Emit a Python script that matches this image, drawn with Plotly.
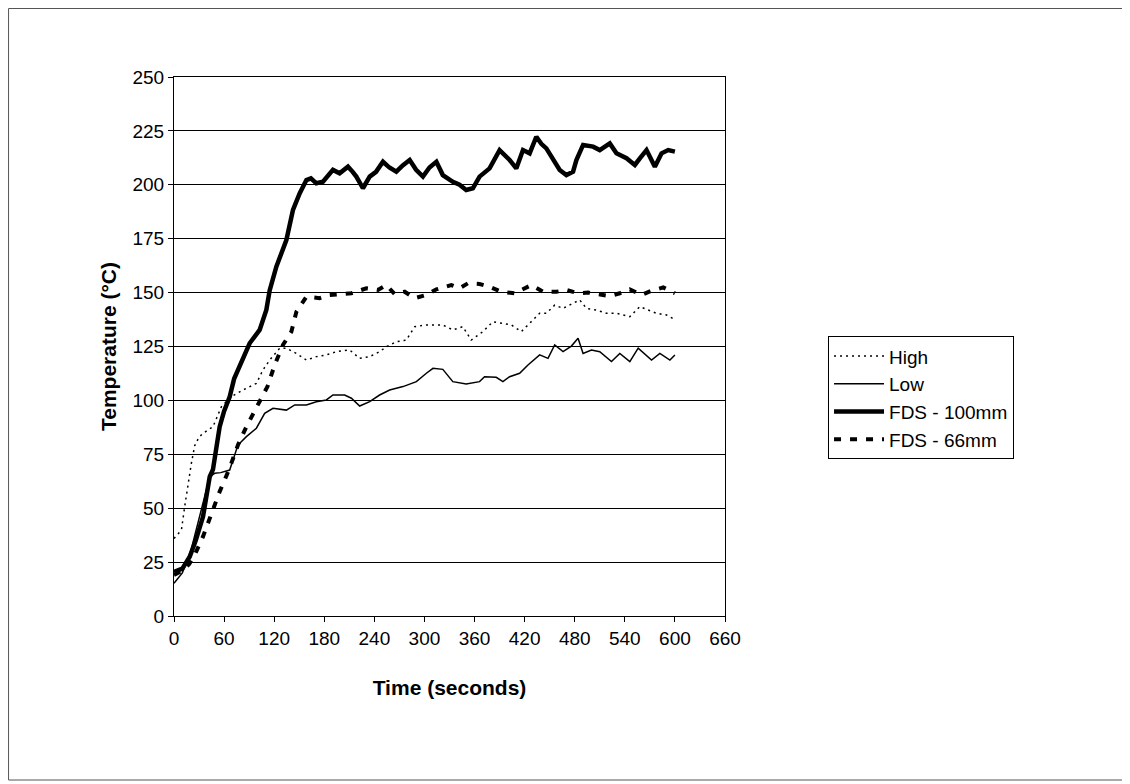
import plotly.graph_objects as go

# High (thermocouple, dotted)
high_t = [0, 8.9, 12.8, 16.8, 20.8, 24.8, 30, 34.7, 46.7, 56.8, 68.7, 82.6, 98.7, 106.6,
          114.6, 126.6, 134.6, 146.6, 158.6, 170.5, 182.5, 194.5, 210.4, 222.4, 234.4,
          246.3, 254.4, 266.3, 278.3, 288.3, 302.3, 314.3, 322, 334, 346, 356, 370, 382,
          394, 404, 416, 426, 438, 446, 456, 466, 478, 486, 494, 506, 518, 530, 546, 558,
          568, 578, 590, 600]
high_v = [36, 39.9, 50.7, 61.5, 70.8, 79, 83, 84.7, 87.8, 97.1, 101.7, 104.8, 107.9, 114.1,
          118.7, 124.2, 124.2, 121.8, 118.7, 120.3, 121.1, 122.6, 123.4, 119.5, 120.3,
          122.6, 124.9, 127.2, 128, 134.2, 135, 135, 135, 132.7, 134.2, 128, 131.9, 136.5,
          135.8, 135, 131.9, 135.8, 140.4, 140.4, 144.2, 142.7, 145, 146.6, 142.7, 141.9,
          140.4, 140.4, 138.8, 143.5, 141.9, 140.4, 139.6, 137.5]

# Low (thermocouple, thin solid)
low_t = [0, 10, 20, 30, 36, 42.8, 48.7, 56, 66.7, 76.6, 86.7, 98.7, 108.6, 118.6, 134.6,
         144.6, 158.6, 170.5, 182.5, 190.4, 204.4, 212.5, 222.4, 234.4, 246.3, 258.3,
         274.3, 290.3, 302.3, 310.2, 322, 334, 350, 366, 372, 386, 394, 402, 414, 424,
         438, 448, 456, 466, 476, 484, 490, 500, 510, 524, 534, 546, 556, 572, 582, 594, 600]
low_v = [15.2, 20, 30, 45, 55, 64.6, 66.2, 66.5, 67.7, 79.3, 83.2, 87.1, 94, 96.3, 95.5,
         97.9, 97.9, 99.4, 100.2, 102.5, 102.5, 101, 97.4, 99.4, 102.5, 104.8,
         106.4, 108.7, 112.6, 114.9, 114.4, 108.7, 107.6, 108.7, 111, 110.7, 108.7, 111,
         112.6, 116.4, 121.1, 119.5, 125.7, 122.6, 125.2, 128.8, 121.8, 123.4, 122.6, 118,
         121.8, 118, 124.2, 118.7, 121.8, 118.7, 121.1]

# FDS - 100mm (thick solid)
fds100_t = [0, 10, 18.8, 26, 34.7, 42.8, 46.7, 54.7, 60, 66.7, 72, 78.6, 90.6, 102.6,
            110.6, 114.6, 122.6, 134.6, 142.5, 150.5, 158.6, 164, 170.5, 178.4, 184, 190.4,
            198.4, 208.4, 214, 218.4, 226.3, 234.4, 242, 250.3, 258, 266.3, 274, 282.3, 290,
            298.2, 306, 314.3, 322, 334, 342, 350, 358, 366, 378, 390, 402, 410, 418, 426,
            434, 440, 446, 454, 462, 470, 478, 482, 490, 502, 510, 522, 530, 542, 552, 558,
            566, 576, 584, 592, 600]
fds100_v = [20.5, 22, 27.5, 35, 46, 64.6, 68, 87.8, 95, 101.7, 110, 115.6, 126.5, 132.7,
            142, 151, 162, 174.4, 188.3, 196, 202.2, 203, 200.7, 201.4, 204, 206.9,
            205.3, 208.4, 206, 203.8, 198.4, 203.8, 206, 210.7, 208, 206.1, 209, 211.5, 207,
            203.8, 208, 210.7, 204.5, 201.4, 200, 197.6, 198.4, 203.8, 207.6, 216.1, 211.5,
            207.6, 216.1, 214.6, 222.3, 219, 216.9, 211.5, 206.9, 204.5, 206.1, 211.5, 218.5,
            217.7, 216.1, 219.2, 214.6, 212.3, 209.2, 212.3, 216.1, 208.4, 214.6, 216.1, 215.4]

# FDS - 66mm (thick dashed)
fds66_t = [0, 10, 18, 24.8, 34.7, 44.8, 54.7, 66, 76.6, 86.7, 99.4, 111.9, 120.6, 130.5,
           140.6, 146.6, 158.6, 174.5, 186.5, 200.5, 212.5, 230.4, 244.3, 254.4, 264.3,
           276.3, 288.3, 302.3, 314.3, 332, 342, 352, 366, 378, 392, 408, 428, 442, 458,
           470, 484, 496, 508, 522, 534, 546, 560, 572, 586, 600]
fds66_v = [19, 21, 24, 28.3, 36.8, 47.6, 57.7, 68, 79.3, 87.8, 97.1, 106.4, 116.4, 125.7,
           131.9, 141.1, 148.1, 147.4, 148.9, 149.3, 149.7, 152, 151.2, 153.5, 149.3,
           150.4, 147.4, 148.9, 151.5, 153.5, 152, 154.3, 154, 152.7, 150.4, 149.7, 153.5,
           150.4, 150.4, 151.2, 149.7, 150, 149.3, 148.4, 149.7, 151.5, 148.9, 150.9, 152.4, 149.7]

x_ticks = list(range(0, 661, 60))
y_ticks = list(range(0, 251, 25))

FONT = "Liberation Sans, Arial, sans-serif"

fig = go.Figure()

fig.add_trace(go.Scatter(x=high_t, y=high_v, mode="lines", name="High",
                         line=dict(color="black", width=1.5, dash="2px,4px")))
fig.add_trace(go.Scatter(x=low_t, y=low_v, mode="lines", name="Low",
                         line=dict(color="black", width=1.5)))
fig.add_trace(go.Scatter(x=fds100_t, y=fds100_v, mode="lines", name="FDS - 100mm",
                         line=dict(color="black", width=4.5)))
fig.add_trace(go.Scatter(x=fds66_t, y=fds66_v, mode="lines", name="FDS - 66mm",
                         line=dict(color="black", width=4, dash="7px,9px")))

# outer frame of the picture (page is offset 8px by the body margin)
fig.add_shape(type="rect", xref="paper", yref="paper",
              x0=-166 / 551 + 0.001, x1=(1120 - 166) / 551,
              y0=-(772 - 608) / 539, y1=(608 - 0.5) / 539,
              line=dict(color="#555555", width=1))

fig.update_layout(
    width=1130, height=784,
    margin=dict(l=166, r=413, t=69, b=176),
    plot_bgcolor="white", paper_bgcolor="white",
    font=dict(family=FONT, size=19, color="black"),
    showlegend=True,
    legend=dict(x=1.187, y=0.519, xanchor="left", yanchor="top",
                bordercolor="black", borderwidth=1, bgcolor="white",
                font=dict(size=19), tracegroupgap=0, itemwidth=50),
    xaxis=dict(range=[0, 660], tickvals=x_ticks, showgrid=False, zeroline=False,
               showline=True, linecolor="black", linewidth=1, mirror=True,
               ticks="outside", ticklen=5, tickcolor="black",
               title=dict(text="<b>Time (seconds)</b>", font=dict(size=21), standoff=32)),
    yaxis=dict(range=[0, 250], tickvals=y_ticks, showgrid=True, gridcolor="black",
               gridwidth=1, zeroline=False,
               showline=True, linecolor="black", linewidth=1, mirror=True,
               ticks="outside", ticklen=5, tickcolor="black",
               title=dict(text="<b>Temperature (°C)</b>", font=dict(size=21), standoff=10)),
)

fig.write_html("out.html")
